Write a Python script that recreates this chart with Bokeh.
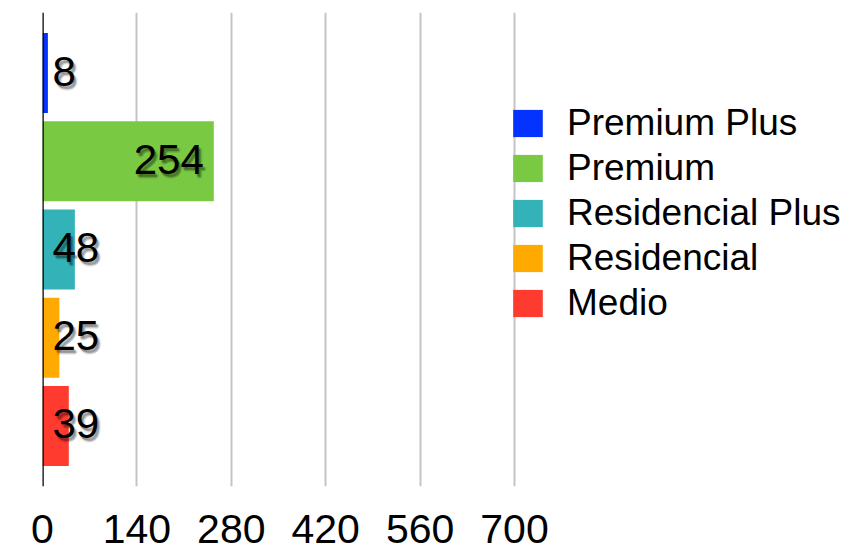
from bokeh.plotting import figure
from bokeh.models import ColumnDataSource, FactorRange, Range1d, FixedTicker, Span, Legend, LegendItem
from bokeh.core.properties import value
from bokeh.embed import file_html
from bokeh.resources import INLINE

categories = ["Premium Plus", "Premium", "Residencial Plus", "Residencial", "Medio"]
counts = [8, 254, 48, 25, 39]
colors = ["#0433FF", "#7AC943", "#33B2B8", "#FFAA00", "#FF3B30"]
x_ticks = [0, 140, 280, 420, 560, 700]

FONT = "Liberation Sans"

W, H = 846, 552
frame_left = 42
px_per_unit = 472 / 700
x_end = (W - frame_left) / px_per_unit

inside = [c > 100 for c in counts]
data = dict(
    cat=categories, count=counts, color=colors,
    lx=[c if i else 0 for c, i in zip(counts, inside)],
    align=["right" if i else "left" for i in inside],
    xoff=[-10 if i else 10 for i in inside],
    txt=[str(c) for c in counts],
)
shadow_layers = [(1, 2, 0.12), (2, 3, 0.2), (3, 4, 0.12), (2, 5, 0.08), (4, 3, 0.08)]
for k, (dx, dy, a) in enumerate(shadow_layers):
    data[f"sx{k}"] = [o + dx for o in data["xoff"]]
src = ColumnDataSource(data)

p = figure(width=W, height=H, output_backend="svg", toolbar_location=None,
           x_range=Range1d(0, x_end),
           y_range=FactorRange(factors=categories[::-1], range_padding=0.186,
                               range_padding_units="absolute"),
           min_border_left=frame_left, min_border_right=0,
           min_border_top=12, min_border_bottom=66)
p.outline_line_color = None
p.background_fill_color = "white"
p.border_fill_color = "white"

bars = p.hbar(y="cat", right="count", left=0, height=0.906, color="color",
              line_color=None, source=src)

# soft drop shadow for value labels
for k, (dx, dy, a) in enumerate(shadow_layers):
    p.text(x="lx", y="cat", text="txt", source=src, text_align="align",
           x_offset=f"sx{k}", y_offset=dy - 2,
           text_baseline="middle", text_font=value(FONT), text_font_size="42px",
           text_color="black", text_alpha=a)
p.text(x="lx", y="cat", text="txt", source=src, text_align="align",
       x_offset="xoff", y_offset=-2, text_baseline="middle", text_font=value(FONT),
       text_font_size="42px", text_color="black")

p.add_layout(Span(location=0, dimension="height", line_color="black", line_width=2.5))

p.yaxis.visible = False
p.ygrid.grid_line_color = None
p.xgrid.ticker = FixedTicker(ticks=x_ticks)
p.xgrid.grid_line_color = "#c4c4c4"
p.xgrid.grid_line_width = 2

ax = p.xaxis[0]
ax.ticker = FixedTicker(ticks=x_ticks)
ax.axis_line_color = None
ax.major_tick_line_color = None
ax.minor_tick_line_color = None
ax.major_tick_out = 0
ax.major_tick_in = 0
ax.major_label_standoff = 28
ax.major_label_text_font = FONT
ax.major_label_text_font_size = "41px"
ax.major_label_text_color = "black"

legend = Legend(items=[LegendItem(label={"field": "cat"}, renderers=[bars])],
                location=(467, 161), orientation="vertical",
                glyph_width=37, glyph_height=34, label_height=45, spacing=0,
                padding=0, margin=0, label_standoff=21,
                label_text_font=FONT, label_text_font_size="37px",
                label_text_color="black", border_line_color=None,
                background_fill_alpha=0)
p.add_layout(legend, "center")

open("out.html", "w").write(file_html(p, INLINE))
